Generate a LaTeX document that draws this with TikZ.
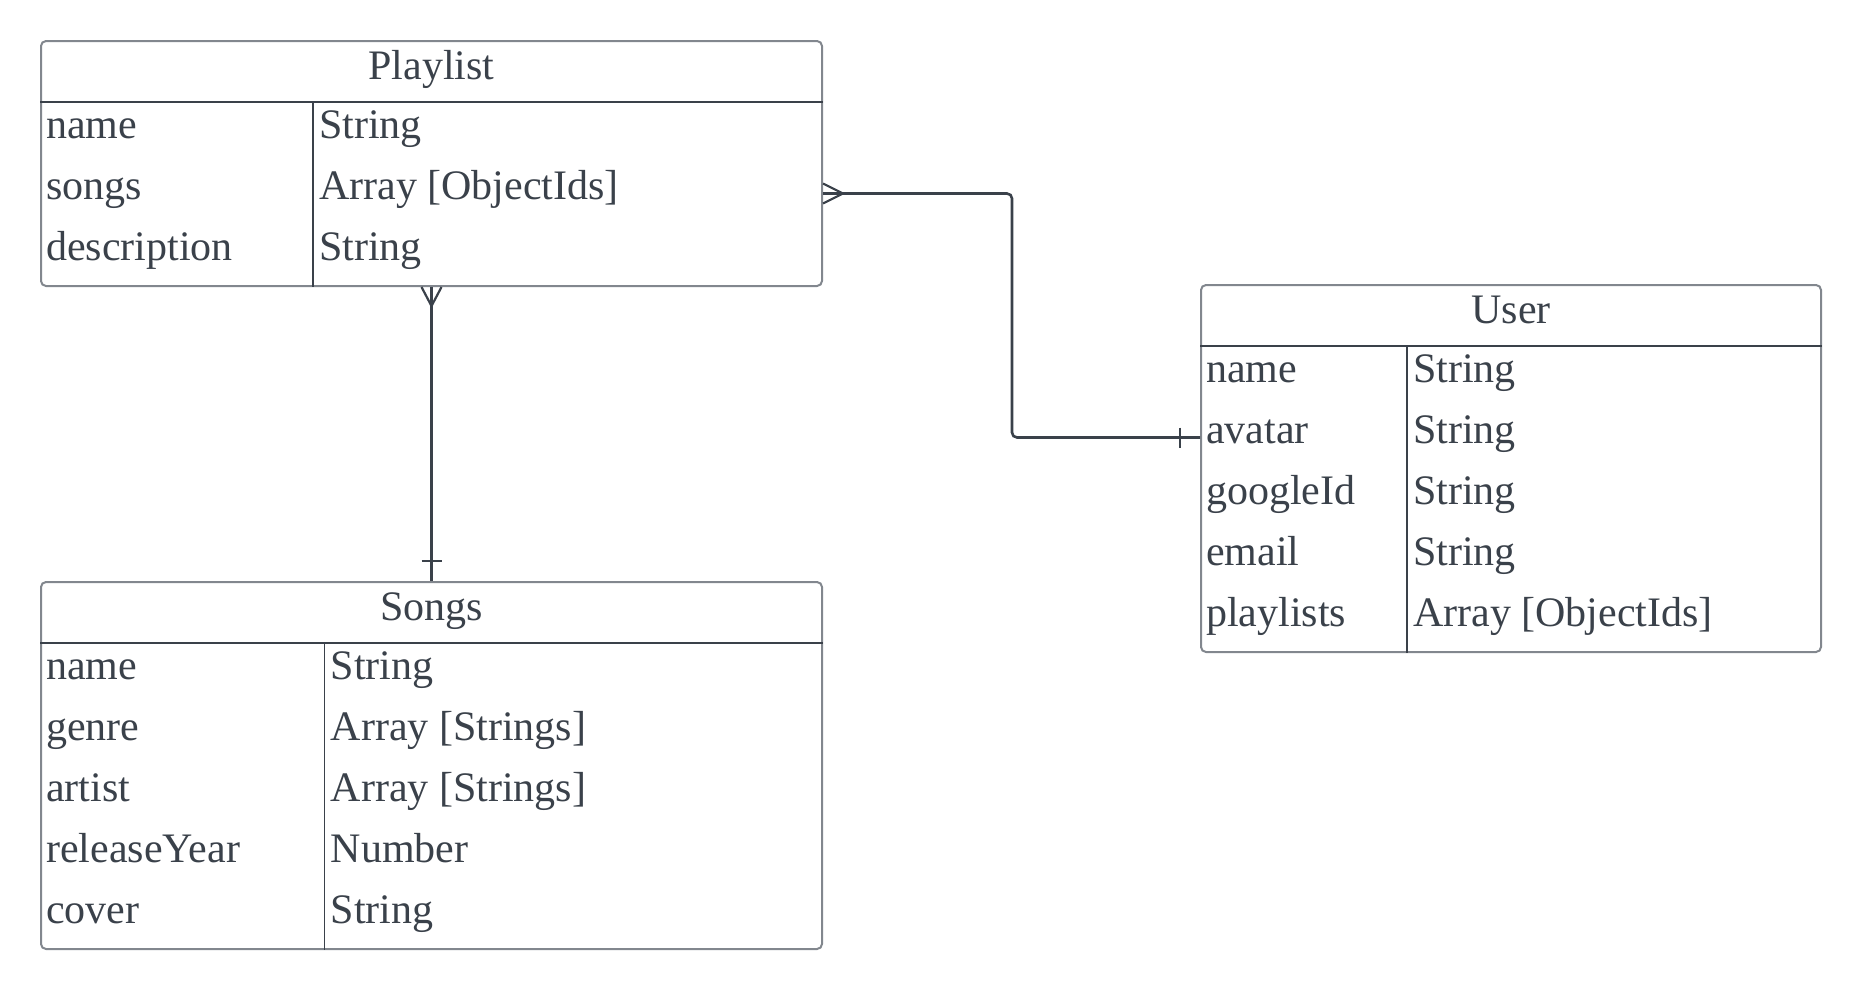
\documentclass[tikz,border=0pt]{standalone}
\usepackage{fontspec}
\setmainfont{Liberation Serif}
\definecolor{ink}{RGB}{58,65,74}
\definecolor{frame}{RGB}{130,135,142}

% one ER table: name, corner, width, divider, rows, title, fields
\newcommand{\erentity}[7]{
  \node[entity, minimum width=#3pt, minimum height={\hh+\rh*#5}] (#1) at #2 {};
  \node[anchor=base] (#1-title) at ([yshift=-39pt]#1.north) {#6};
  \draw[rule] ([yshift=-\hh pt]#1.north west) -- ([yshift=-\hh pt]#1.north east);
  \draw[rule] ([xshift=#4pt,yshift=-\hh pt]#1.north west) -- ([xshift=#4pt]#1.south west);
  \foreach \f/\t [count=\i] in {#7} {
    \coordinate (#1-r\i) at ([yshift={-(\hh+\rh*\i-\rh/2)}]#1.north west);
    \node[anchor=base west] (#1-f\i) at ([xshift=6pt,yshift={-(\hh+\rh*\i-\rh+36)}]#1.north west) {\f};
    \node[anchor=base west] (#1-t\i) at ([xshift=#4pt+6pt,yshift={-(\hh+\rh*\i-\rh+36)}]#1.north west) {\t};
  }
}

\begin{document}
\begin{tikzpicture}[x=1pt,y=-1pt]
    \tikzstyle{every node}=[font=\fontsize{42}{50}\selectfont, text=ink, inner sep=0pt]
    \tikzstyle{entity}=[draw=frame, line width=2pt, rounded corners=5pt, anchor=north west, inner sep=0pt]
    \tikzstyle{rule}=[draw=ink, line width=1.6pt]
    \tikzstyle{relation}=[draw=ink, line width=2.6pt, rounded corners=5pt]
    \tikzstyle{foot}=[draw=ink, line width=2.2pt]
    \def\hh{62}
    \def\rh{61}
    \useasboundingbox (0,0) rectangle (1860,986);
    \erentity{playlist}{(40,40)}{781}{273}{3}{Playlist}{name/String, songs/{Array [ObjectIds]}, description/String}
    \erentity{songs}{(40,581)}{781}{284.5}{5}{Songs}{name/String, genre/{Array [Strings]}, artist/{Array [Strings]}, releaseYear/Number, cover/String}
    \erentity{user}{(1200,284)}{620}{207}{5}{User}{name/String, avatar/String, googleId/String, email/String, playlists/{Array [ObjectIds]}}
    % Draw the two relations
    \coordinate (pl-end) at (playlist-r2 -| playlist.east);
    \coordinate (us-end) at (user-r2 -| user.west);
    \draw[relation] (pl-end) -- ++(189,0) |- (us-end);
    \draw[foot] ([yshift=10pt]pl-end) -- ([xshift=20pt]pl-end) -- ([yshift=-10pt]pl-end);
    \draw[foot] ([xshift=-20pt,yshift=10pt]us-end) -- ([xshift=-20pt,yshift=-10pt]us-end);
    \draw[relation] (playlist.south) -- (songs.north);
    \draw[foot] ([xshift=-10pt]playlist.south) -- ([yshift=-19pt]playlist.south) -- ([xshift=10pt]playlist.south);
    \draw[foot] ([xshift=-10pt,yshift=20pt]songs.north) -- ([xshift=10pt,yshift=20pt]songs.north);
\end{tikzpicture}
\end{document}
